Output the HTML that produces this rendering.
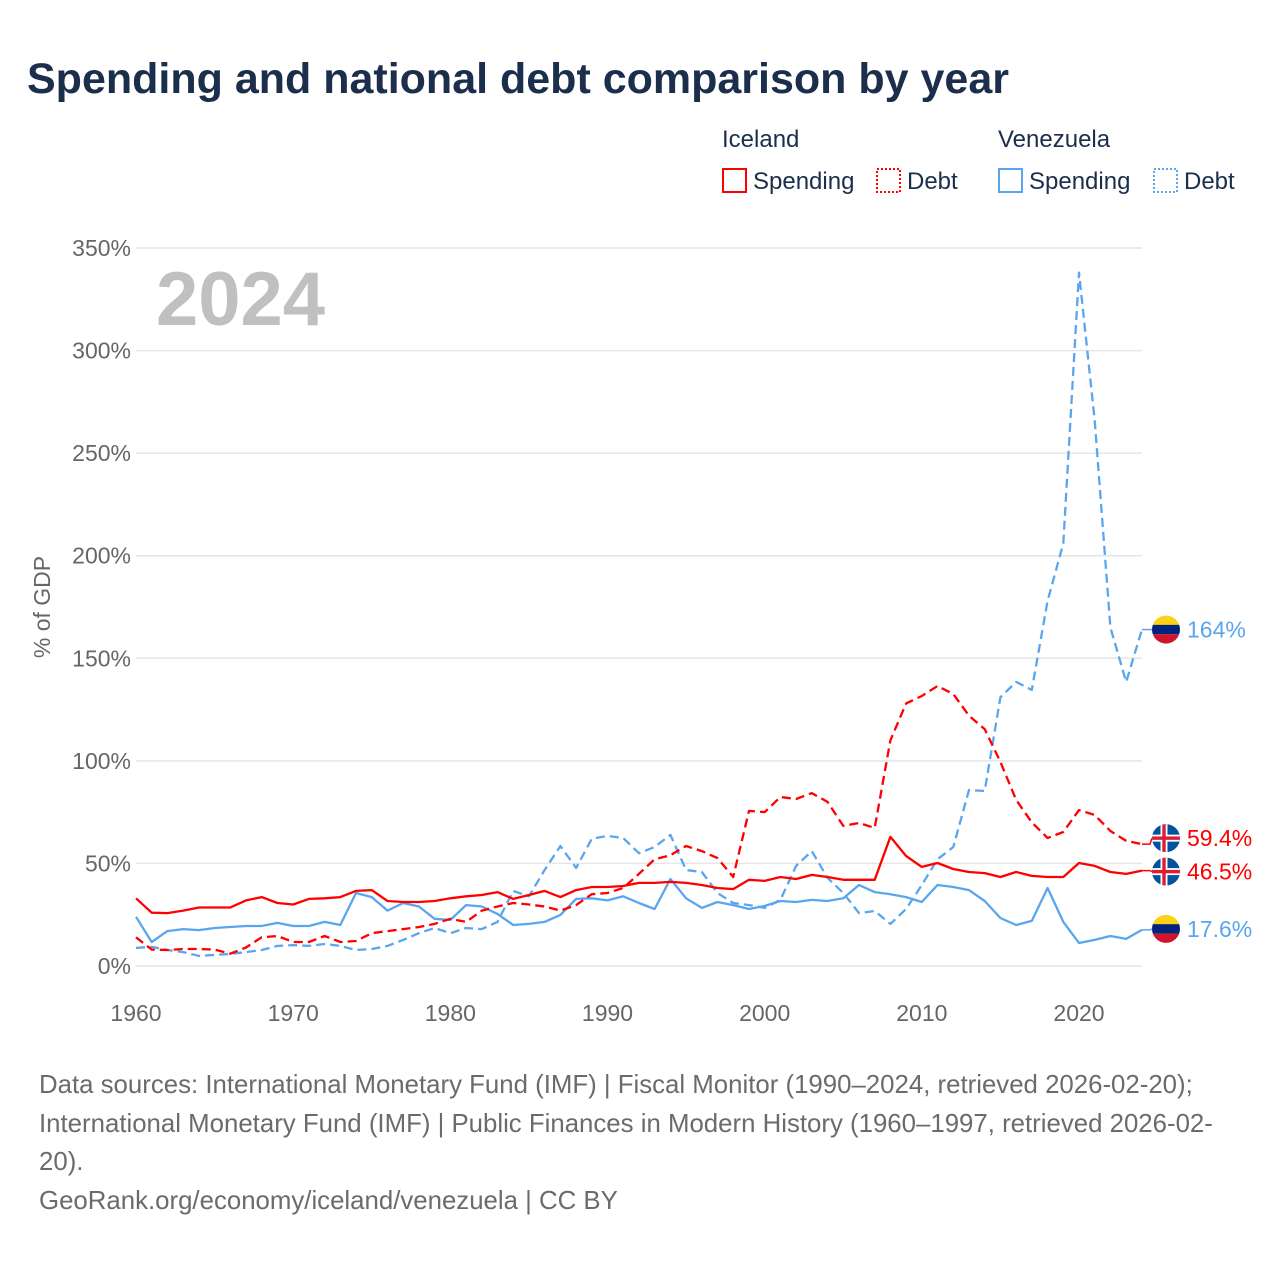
<!DOCTYPE html>
<html><head><meta charset="utf-8"><style>
body{margin:0;background:#fff;width:1280px;height:1280px;overflow:hidden;font-family:"Liberation Sans",sans-serif}
svg{position:absolute;left:0;top:0}
</style></head><body>
<svg id="chart" width="1280" height="1280" xmlns="http://www.w3.org/2000/svg" font-family="Liberation Sans, sans-serif">
<text x="27" y="93" font-size="43" font-weight="bold" fill="#1b2e4b">Spending and national debt comparison by year</text>
<g font-size="24" fill="#1b2e4b">
<text x="722" y="147">Iceland</text>
<text x="998" y="147">Venezuela</text>
<g><rect x="723" y="169" width="23" height="23" fill="none" stroke="#ff0000" stroke-width="2"/><text x="753" y="189">Spending</text></g>
<g><rect x="877" y="169" width="23" height="23" fill="none" stroke="#ff0000" stroke-width="2" stroke-dasharray="2,2"/><text x="907" y="189">Debt</text></g>
<g><rect x="999" y="169" width="23" height="23" fill="none" stroke="#5aa6ee" stroke-width="2"/><text x="1029" y="189">Spending</text></g>
<g><rect x="1154" y="169" width="23" height="23" fill="none" stroke="#5aa6ee" stroke-width="2" stroke-dasharray="2,2"/><text x="1184" y="189">Debt</text></g>
</g>
<text transform="translate(50,607) rotate(-90)" text-anchor="middle" font-size="23" fill="#666">% of GDP</text>
<text x="156" y="325" font-size="76" font-weight="bold" fill="#c0c0c0">2024</text>
<g id="grid"></g><g id="series"></g><g id="ends"></g>
<g font-size="25.8" fill="#6b6b6b">
<text x="39" y="1093">Data sources: International Monetary Fund (IMF) | Fiscal Monitor (1990–2024, retrieved 2026-02-20);</text>
<text x="39" y="1132">International Monetary Fund (IMF) | Public Finances in Modern History (1960–1997, retrieved 2026-02-</text>
<text x="39" y="1170">20).</text>
<text x="39" y="1209">GeoRank.org/economy/iceland/venezuela | CC BY</text>
</g>
</svg>
<script>
const years=[];for(let y=1960;y<=2024;y++)years.push(y);
const yTicks=[0,50,100,150,200,250,300,350];
const xTicks=[1960,1970,1980,1990,2000,2010,2020];
const icelandSpending=[33,26,25.8,27,28.5,28.5,28.5,32,33.6,30.7,30,32.7,33,33.6,36.6,37,31.7,31.2,31.2,31.7,33,34,34.6,36,32.7,34.6,36.6,33.6,37,38.5,38.5,39,40.5,40.5,41,40.5,39.5,38,37.5,42,41.5,43.4,42.4,44.4,43.4,42,42,42,63,53.6,48.3,50.2,47.3,45.8,45.3,43.4,45.8,43.9,43.4,43.4,50.2,48.8,45.8,44.9,46.5];
const icelandDebt=[14,8,7.8,8.3,8.3,8,6,9,14,14.6,11.7,11.7,14.6,11.7,12.2,16,17,18,19,20.5,23,21.5,27,29,30.7,30,29,27,29.7,35,35.6,38,44.9,52,54,58.5,56,52.6,43.4,75.6,75,82.4,81.4,84.3,80,68.3,69.7,67.3,110,128,131.6,136.5,132.6,122,115.5,99.5,81,70,62.4,65.3,76,73.6,65.8,61,59.4];
const venezuelaSpending=[24,11.7,17,18,17.5,18.5,19,19.5,19.5,21,19.5,19.5,21.5,20,35.6,33.6,27,30.7,29,23,22.4,29.7,29,25.4,20,20.5,21.5,24.9,32.7,33,32,34,30.7,27.8,42.4,33,28.3,31.2,29.7,27.8,29.3,31.7,31.2,32.2,31.7,33,39.5,36,35,33.6,31.2,39.5,38.5,37,31.7,23.4,20,22,38,21.5,11.2,12.7,14.6,13.2,17.6];
const venezuelaDebt=[8.8,9.3,7.8,6.8,4.9,5.4,5.9,6.8,7.8,9.8,10.2,9.8,10.7,9.8,7.8,8.3,9.8,12.7,16,18.5,16,18.5,18,21.5,36.6,34,46.8,58.5,47.8,62,63.4,62.4,55,58,63.9,46.8,45.8,35.6,30.7,29.7,28.3,32.2,48.8,56,43,35.6,25.8,26.8,20.5,27.8,39.5,52,58,85.8,85.3,131,138.5,134.6,178,206,338,266,165,138.5,164];
const endLabels=["164%","59.4%","46.5%","17.6%"];
const NS="http://www.w3.org/2000/svg";
const X=y=>136+(y-1960)*943/60;
const Y=v=>966-v*718/350;
function mk(t,a,p){const e=document.createElementNS(NS,t);for(const k in a)e.setAttribute(k,a[k]);p.appendChild(e);return e;}
const grid=document.getElementById('grid');
yTicks.forEach(t=>{
  const l=mk('line',{x1:136,x2:1142,y1:Y(t),y2:Y(t),stroke:'#e6e6e6','stroke-width':1.5},grid);
  
  
  const tx=mk('text',{x:131,y:Y(t)+8,'text-anchor':'end','font-size':23,fill:'#666'},grid);
  tx.textContent=t+'%';
  
  
});
xTicks.forEach(t=>{
  const tx=mk('text',{x:X(t),y:1021,'text-anchor':'middle','font-size':23,fill:'#666'},grid);
  tx.textContent=t;
  
  
});
const ser=document.getElementById('series');
function line(vals,color,dash,name){
  const d=vals.map((v,i)=>(i?'L':'M')+X(years[i]).toFixed(1)+','+Y(v).toFixed(1)).join('');
  const p=mk('path',{d:d,fill:'none',stroke:color,'stroke-width':2.3,'stroke-linejoin':'round'},ser);
  if(dash)p.setAttribute('stroke-dasharray','9,5');
  
  
}
line(venezuelaSpending,'#5aa6ee',false,'venezuela-spending-line');
line(venezuelaDebt,'#5aa6ee',true,'venezuela-debt-line');
line(icelandSpending,'#ff0000',false,'iceland-spending-line');
line(icelandDebt,'#ff0000',true,'iceland-debt-line');
const ends=document.getElementById('ends');
const endSeries=[[venezuelaDebt,'#5aa6ee','ve',0],[icelandDebt,'#ff0000','is',-6],[icelandSpending,'#ff0000','is',1],[venezuelaSpending,'#5aa6ee','ve',-1]];
endSeries.forEach((s,i)=>{
  const v=s[0][s[0].length-1];const ly=Y(v);const cy=ly+s[3];const cx=1166;
  const g=mk('g',{},ends);
  
  
  mk('path',{d:'M'+X(2024)+','+ly+'L'+(cx-16)+','+ly+'L'+(cx-14)+','+cy,fill:'none',stroke:s[1],'stroke-width':1.5},g);
  const id='c'+i;
  const cp=mk('clipPath',{id:id},g);mk('circle',{cx:cx,cy:cy,r:14},cp);
  const fg=mk('g',{'clip-path':'url(#'+id+')'},g);
  if(s[2]==='ve'){
    mk('rect',{x:cx-14,y:cy-14,width:28,height:10,fill:'#fcd116'},fg);
    mk('rect',{x:cx-14,y:cy-4.7,width:28,height:9.4,fill:'#00247d'},fg);
    mk('rect',{x:cx-14,y:cy+4.7,width:28,height:10,fill:'#cf142b'},fg);
  }else{
    mk('rect',{x:cx-14,y:cy-14,width:28,height:28,fill:'#02529c'},fg);
    mk('rect',{x:cx-14,y:cy-3.5,width:28,height:7,fill:'#fff'},fg);
    mk('rect',{x:cx-5.5,y:cy-14,width:7,height:28,fill:'#fff'},fg);
    mk('rect',{x:cx-14,y:cy-1.7,width:28,height:3.4,fill:'#dc1e35'},fg);
    mk('rect',{x:cx-3.7,y:cy-14,width:3.4,height:28,fill:'#dc1e35'},fg);
  }
  const t=mk('text',{x:1187,y:cy+8,'font-size':23,fill:s[1]},g);t.textContent=endLabels[i];
});
</script>
</body></html>
